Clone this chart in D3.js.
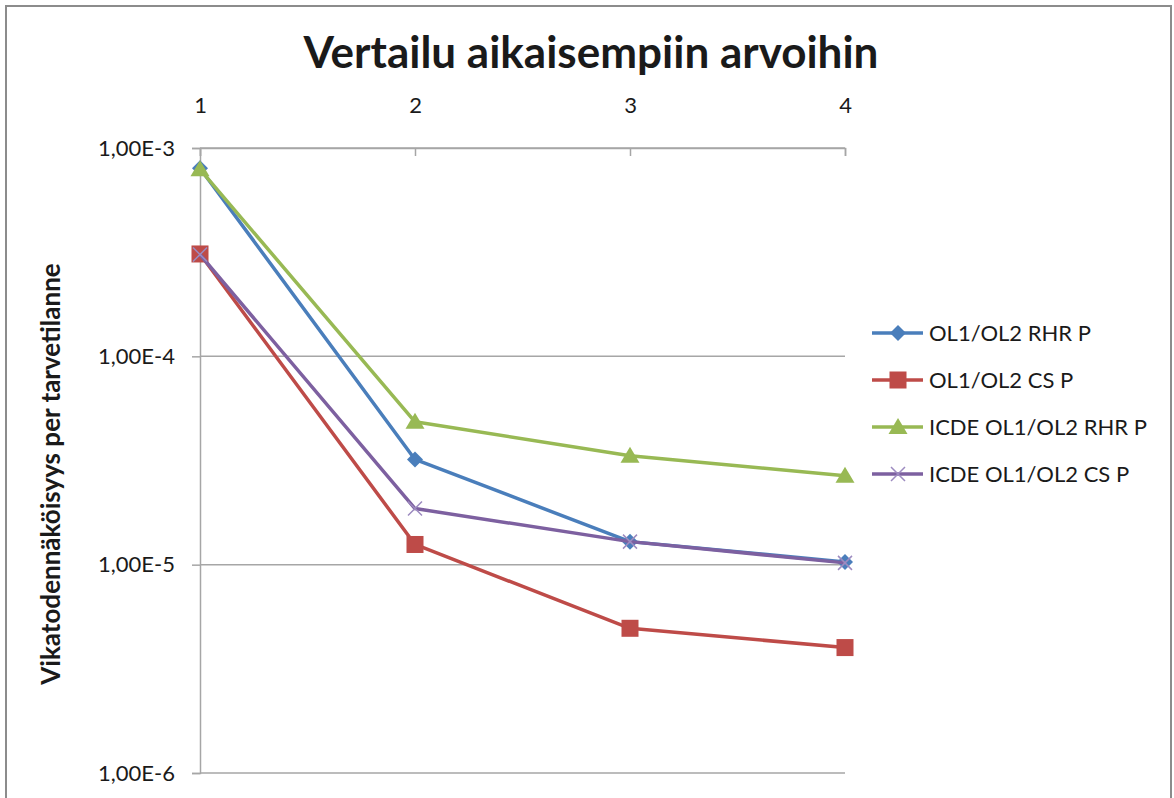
<!DOCTYPE html>
<html>
<head>
<meta charset="utf-8">
<script src="https://cdn.jsdelivr.net/npm/d3@7"></script>
<style>
  body { margin: 0; background: #fff; }
  text { font-family: Lato, "Open Sans", sans-serif; fill: #1a1a1a; }
</style>
</head>
<body>
<div id="chart"></div>
<script>
// data
const categories = [1, 2, 3, 4];
const seriesNames = ["OL1/OL2 RHR P", "OL1/OL2 CS P", "ICDE OL1/OL2 RHR P", "ICDE OL1/OL2 CS P"];
const rhrP = [8.0e-4, 3.2e-5, 1.29e-5, 1.03e-5];
const csP = [3.1e-4, 1.25e-5, 4.95e-6, 4.0e-6];
const icdeRhrP = [7.9e-4, 4.85e-5, 3.33e-5, 2.67e-5];
const icdeCsP = [3.08e-4, 1.86e-5, 1.29e-5, 1.02e-5];
const yTicks = [1e-3, 1e-4, 1e-5, 1e-6];

const series = [
  {name: seriesNames[0], values: rhrP, color: "#4a7ebb", marker: "diamond"},
  {name: seriesNames[1], values: csP, color: "#be4b48", marker: "square"},
  {name: seriesNames[2], values: icdeRhrP, color: "#98b954", marker: "triangle"},
  {name: seriesNames[3], values: icdeCsP, color: "#7d60a0", marker: "cross"}
];

const W = 1174, H = 798;
const margin = {top: 148, left: 200, right: W - 845, bottom: H - 773};

const svg = d3.select("#chart").append("svg")
  .attr("width", W).attr("height", H);

// outer frame
svg.append("rect")
  .attr("x", 6).attr("y", 6)
  .attr("width", 1165).attr("height", 810)
  .attr("fill", "none").attr("stroke", "#8c8c8c").attr("stroke-width", 2);

const x = d3.scaleLinear().domain([1, 4]).range([margin.left, W - margin.right]);
const y = d3.scaleLog().domain([1e-6, 1e-3]).range([H - margin.bottom, margin.top]);

// horizontal gridlines
svg.append("g").selectAll("line")
  .data(yTicks)
  .join("line")
  .attr("x1", margin.left).attr("x2", W - margin.right)
  .attr("y1", d => y(d)).attr("y2", d => y(d))
  .attr("stroke", "#a6a6a6").attr("stroke-width", 1.5);

// y axis
const yAxis = svg.append("g")
  .attr("transform", `translate(${margin.left},0)`)
  .call(d3.axisLeft(y).tickValues(yTicks).tickSize(8).tickPadding(17)
    .tickFormat(d => "1,00E" + Math.round(Math.log10(d))));
yAxis.select(".domain").attr("stroke", "#a6a6a6").attr("stroke-width", 1.5);
yAxis.selectAll(".tick line").attr("stroke", "#a6a6a6").attr("stroke-width", 1.5);
yAxis.selectAll("text").style("font-size", "22px").attr("fill", "#1a1a1a")
  .style("font-family", "Lato, 'Open Sans', sans-serif");

// x axis on top, ticks point down
const xAxis = svg.append("g")
  .attr("transform", `translate(0,${margin.top})`)
  .call(d3.axisTop(x).tickValues(categories).tickSize(-8).tickPadding(35)
    .tickFormat(d3.format("d")));
xAxis.select(".domain").attr("stroke", "#a6a6a6").attr("stroke-width", 1.5);
xAxis.selectAll(".tick line").attr("stroke", "#a6a6a6").attr("stroke-width", 1.5);
xAxis.selectAll("text").style("font-size", "22px").attr("fill", "#1a1a1a")
  .style("font-family", "Lato, 'Open Sans', sans-serif");

// title
svg.append("text")
  .attr("x", 591).attr("y", 68)
  .attr("text-anchor", "middle")
  .style("font-size", "44px").attr("font-weight", "bold")
  .text("Vertailu aikaisempiin arvoihin");

// y label
svg.append("text")
  .attr("transform", "translate(60,474) rotate(-90)")
  .attr("text-anchor", "middle")
  .style("font-size", "26px").attr("font-weight", "bold")
  .text("Vikatodennäköisyys per tarvetilanne");

function drawMarker(g, type, color) {
  if (type === "diamond") {
    g.append("path").attr("d", "M0,-8L8,0L0,8L-8,0Z").attr("fill", color);
  } else if (type === "square") {
    g.append("rect").attr("x", -8.5).attr("y", -8.5).attr("width", 17).attr("height", 17).attr("fill", color);
  } else if (type === "triangle") {
    g.append("path").attr("d", "M0,-9L9.5,7L-9.5,7Z").attr("fill", color);
  } else {
    g.append("path").attr("d", "M-7,-7L7,7M-7,7L7,-7")
      .attr("stroke", "#9d8bc0").attr("stroke-width", 1.5).attr("fill", "none");
  }
}

const line = d3.line().x((d, i) => x(categories[i])).y(d => y(d));

series.forEach(s => {
  svg.append("path")
    .datum(s.values)
    .attr("d", line)
    .attr("fill", "none")
    .attr("stroke", s.color)
    .attr("stroke-width", 3.5)
    .attr("stroke-linejoin", "round");
  s.values.forEach((v, i) => {
    const g = svg.append("g").attr("transform", `translate(${x(categories[i])},${y(v)})`);
    drawMarker(g, s.marker, s.color);
  });
});

// legend
const legend = svg.append("g").attr("transform", "translate(872,333)");
series.forEach((s, i) => {
  const row = legend.append("g").attr("transform", `translate(0,${i * 47})`);
  row.append("line").attr("x1", 0).attr("x2", 51).attr("y1", 0).attr("y2", 0)
    .attr("stroke", s.color).attr("stroke-width", 3.5);
  const m = row.append("g").attr("transform", "translate(26,0)");
  drawMarker(m, s.marker, s.color);
  row.append("text").attr("x", 57).attr("y", 8)
    .style("font-size", "22px").text(s.name);
});
</script>
</body>
</html>
